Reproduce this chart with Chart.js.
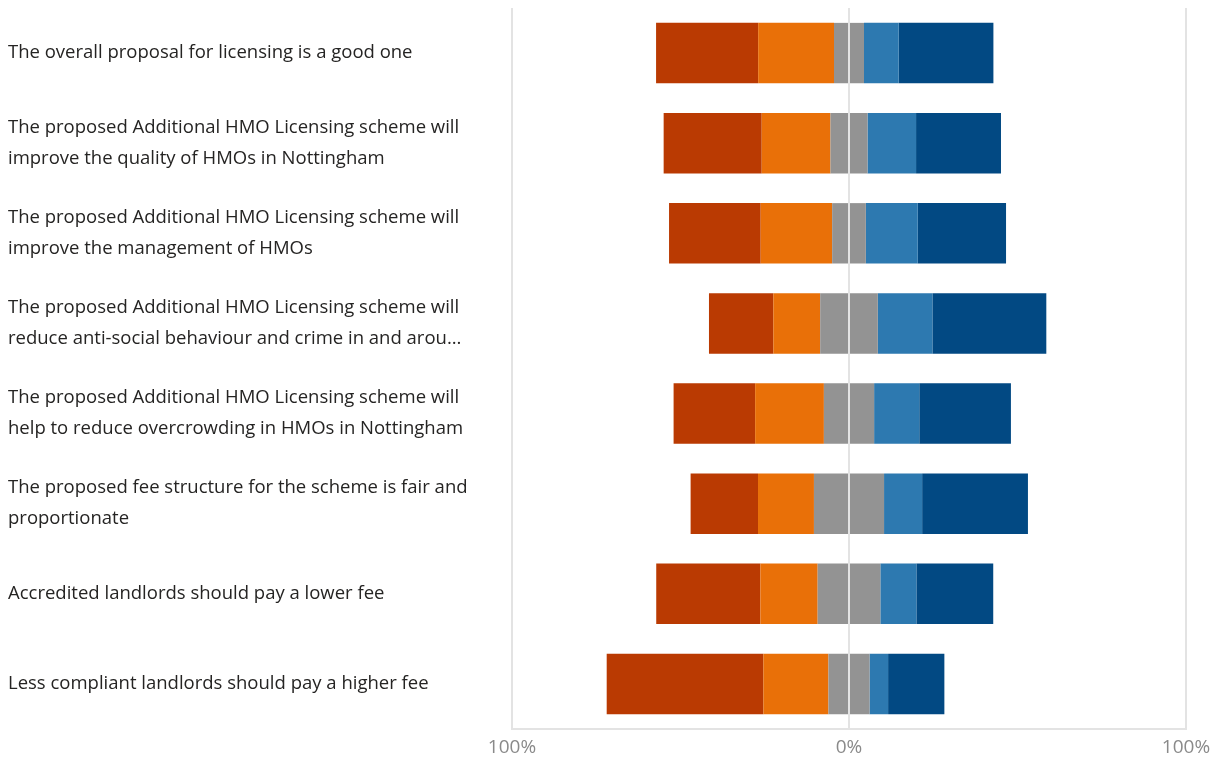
<!DOCTYPE html>
<html>
<head>
<meta charset="utf-8">
<script src="https://cdn.jsdelivr.net/npm/chart.js@4/dist/chart.umd.min.js"></script>
<style>
  html, body { margin: 0; padding: 0; background: #fff; }
  #wrap { width: 1220px; height: 760px; }
</style>
</head>
<body>
<div id="wrap"><canvas id="likert"></canvas></div>
<script>
// statements, wrapped onto two lines where long
const statements = [
  "The overall proposal for licensing is a good one",
  ["The proposed Additional HMO Licensing scheme will", "improve the quality of HMOs in Nottingham"],
  ["The proposed Additional HMO Licensing scheme will", "improve the management of HMOs"],
  ["The proposed Additional HMO Licensing scheme will", "reduce anti-social behaviour and crime in and arou..."],
  ["The proposed Additional HMO Licensing scheme will", "help to reduce overcrowding in HMOs in Nottingham"],
  ["The proposed fee structure for the scheme is fair and", "proportionate"],
  "Accredited landlords should pay a lower fee",
  "Less compliant landlords should pay a higher fee"
];

// share of responses (%)
const stronglyDisagree = [30.3, 29.1, 27.2, 19.1, 24.2, 20.0, 30.9, 46.5];
const disagree         = [22.5, 20.4, 21.2, 13.9, 20.4, 16.6, 17.0, 19.3];
const neutral          = [ 8.9, 11.0, 10.0, 17.1, 14.9, 20.8, 18.6, 12.2];
const agree            = [10.3, 14.4, 15.4, 16.2, 13.4, 11.3, 10.7,  5.5];
const stronglyAgree    = [28.1, 25.2, 26.2, 33.8, 27.2, 31.4, 22.8, 16.7];

const axisTicks = [-100, 0, 100];

const colors = {
  sd: "#BA3A02",
  d: "#E97008",
  n: "#939393",
  a: "#2D79B0",
  sa: "#024983"
};

var neg = arr => arr.map(v => -v);
var half = arr => arr.map(v => v / 2);

// negatives stack outward from zero in dataset order, so neutral goes first
const datasets = [
  { label: "Neither (left)", data: neg(half(neutral)), backgroundColor: colors.n },
  { label: "Disagree", data: neg(disagree), backgroundColor: colors.d },
  { label: "Strongly disagree", data: neg(stronglyDisagree), backgroundColor: colors.sd },
  { label: "Neither (right)", data: half(neutral), backgroundColor: colors.n },
  { label: "Agree", data: agree, backgroundColor: colors.a },
  { label: "Strongly agree", data: stronglyAgree, backgroundColor: colors.sa }
].map(ds => Object.assign(ds, {
  stack: "likert",
  borderWidth: 0,
  barPercentage: 0.67,
  categoryPercentage: 1.0
}));

const labelFont = "'Open Sans', 'Noto Sans', sans-serif";

new Chart(document.getElementById("likert").getContext("2d"), {
  type: "bar",
  data: { labels: statements, datasets },
  options: {
    indexAxis: "y",
    responsive: true,
    maintainAspectRatio: false,
    animation: false,
    layout: { padding: { top: 8, left: 8, right: 34, bottom: 0 } },
    plugins: {
      legend: { display: false },
      tooltip: { enabled: false }
    },
    scales: {
      x: {
        stacked: true,
        min: -100,
        max: 100,
        z: 1,
        afterBuildTicks: scale => {
          scale.ticks = axisTicks.map(v => ({ value: v }));
        },
        afterFit: scale => { scale.height = 31; },
        grid: {
          color: "#e3e3e3",
          lineWidth: 2,
          drawTicks: false
        },
        border: { display: true, color: "#e3e3e3", width: 2 },
        ticks: {
          padding: 7,
          color: "#8a8a8a",
          font: { family: labelFont, size: 19 },
          callback: v => Math.abs(v) + "%"
        }
      },
      y: {
        stacked: true,
        grid: { display: false },
        border: { display: false },
        afterFit: scale => {
          // fixed label column, and no extra room for the outer labels
          scale.width = 504;
          scale.paddingTop = 0;
          scale.paddingBottom = 0;
        },
        ticks: {
          crossAlign: "far",
          color: "#252423",
          font: { family: labelFont, size: 18.5, lineHeight: 1.68 },
          autoSkip: false
        }
      }
    }
  }
});
</script>
</body>
</html>
